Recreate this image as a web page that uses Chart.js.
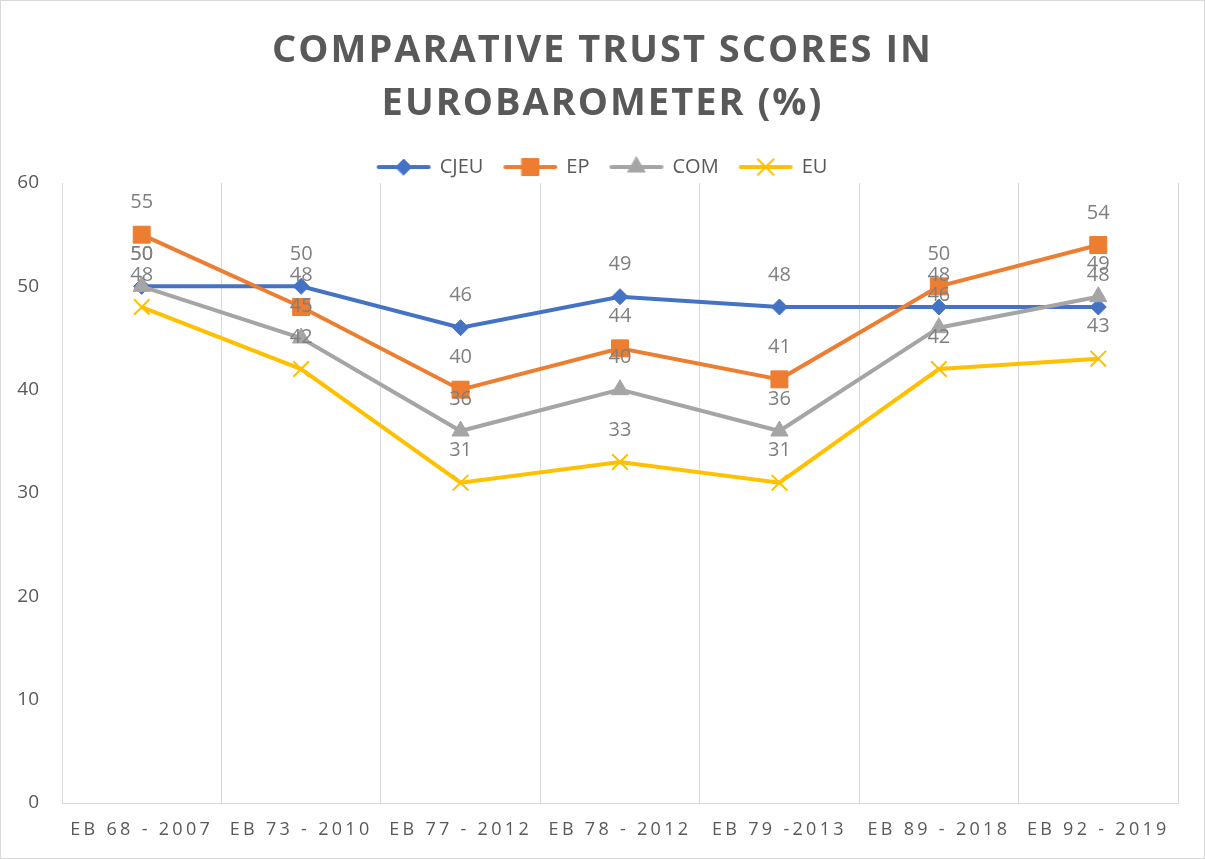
<!DOCTYPE html>
<html>
<head>
<meta charset="utf-8">
<script src="https://cdn.jsdelivr.net/npm/chart.js@4.4.1/dist/chart.umd.min.js"></script>
<style>
  html, body { margin: 0; padding: 0; background: #fff; }
</style>
</head>
<body>
<canvas id="trustChart" width="1205" height="859"></canvas>
<script>
// values
var waves = ["EB 68 - 2007", "EB 73 - 2010", "EB 77 - 2012", "EB 78 - 2012", "EB 79 -2013", "EB 89 - 2018", "EB 92 - 2019"];
var cjeu = [50, 50, 46, 49, 48, 48, 48];
var ep = [55, 48, 40, 44, 41, 50, 54];
var com = [50, 45, 36, 40, 36, 46, 49];
var eu = [48, 42, 31, 33, 31, 42, 43];
var yTicks = [0, 10, 20, 30, 40, 50, 60];

var colors = ["#4472C4", "#ED7D31", "#A5A5A5", "#FFC000"];

Chart.defaults.font.family = "'Open Sans', sans-serif";

// little line + marker pictures for the legend
function legendIcon(color, style, radius, bw) {
  var c = document.createElement("canvas");
  c.width = 56;
  c.height = 24;
  var g = c.getContext("2d");
  g.strokeStyle = color;
  g.lineWidth = 4;
  g.lineCap = "round";
  g.beginPath();
  g.moveTo(3, 12);
  g.lineTo(53, 12);
  g.stroke();
  g.fillStyle = color;
  g.lineWidth = bw;
  Chart.helpers.drawPoint(g, { pointStyle: style, radius: radius, rotation: 0, borderWidth: bw }, 28, 12);
  return c;
}

var icons = [
  legendIcon(colors[0], "rectRot", 8, 1),
  legendIcon(colors[1], "rect", 12, 1),
  legendIcon(colors[2], "triangle", 10, 1),
  legendIcon(colors[3], "crossRot", 11, 2)
];

function spaced(obj, fn, sp) {
  if (!obj || obj["_sp_" + fn]) return;
  var orig = obj[fn];
  obj[fn] = function () {
    var c = this.ctx;
    c.save();
    c.letterSpacing = sp;
    orig.apply(this, arguments);
    c.restore();
  };
  obj["_sp_" + fn] = true;
}

var excelLook = {
  id: "excelLook",
  beforeLayout: function (chart) {
    var lg = chart.legend;
    if (lg && !lg._trimmed) {
      var fit = lg.fit;
      lg.fit = function () {
        fit.call(this);
        this.height -= 4;
      };
      lg._trimmed = true;
    }
  },
  beforeDraw: function (chart) {
    var ctx = chart.ctx;
    ctx.save();
    ctx.fillStyle = "#fff";
    ctx.fillRect(0, 0, chart.width, chart.height);
    ctx.strokeStyle = "#d9d9d9";
    ctx.lineWidth = 1;
    ctx.strokeRect(0.5, 0.5, chart.width - 1, chart.height - 1);
    ctx.restore();
    // y labels sit left of the (narrow) scale box, so don't clip them
    chart.scales.y._computeLabelArea = function () { return null; };
    spaced(chart.scales.x, "drawLabels", "3.3px");
    spaced(chart.titleBlock, "draw", "2px");
  },
  afterDatasetsDraw: function (chart) {
    var ctx = chart.ctx;
    ctx.save();
    ctx.font = "20px 'Open Sans', sans-serif";
    ctx.fillStyle = "#7f7f7f";
    ctx.textAlign = "center";
    ctx.textBaseline = "middle";
    chart.data.datasets.forEach(function (ds, i) {
      var meta = chart.getDatasetMeta(i);
      meta.data.forEach(function (pt, j) {
        ctx.fillText(String(ds.data[j]), pt.x, pt.y - 32);
      });
    });
    ctx.restore();
  }
};

var ctx = document.getElementById("trustChart");

var trustChart = new Chart(ctx, {
  type: "line",
  data: {
    labels: waves,
    datasets: [
      {
        label: "CJEU",
        data: cjeu,
        order: 4,
        borderColor: colors[0],
        backgroundColor: colors[0],
        borderWidth: 4,
        pointStyle: "rectRot",
        pointRadius: 8,
        pointBorderWidth: 1
      },
      {
        label: "EP",
        data: ep,
        order: 3,
        borderColor: colors[1],
        backgroundColor: colors[1],
        borderWidth: 4,
        pointStyle: "rect",
        pointRadius: 12,
        pointBorderWidth: 1
      },
      {
        label: "COM",
        data: com,
        order: 2,
        borderColor: colors[2],
        backgroundColor: colors[2],
        borderWidth: 4,
        pointStyle: "triangle",
        pointRadius: 10,
        pointBorderWidth: 1
      },
      {
        label: "EU",
        data: eu,
        order: 1,
        borderColor: colors[3],
        backgroundColor: colors[3],
        borderWidth: 4,
        pointStyle: "crossRot",
        pointRadius: 11,
        pointBorderWidth: 2
      }
    ]
  },
  options: {
    responsive: false,
    animation: false,
    layout: { padding: { top: 0, left: 27, right: 27, bottom: 8 } },
    plugins: {
      title: {
        display: true,
        text: ["COMPARATIVE TRUST SCORES IN", "EUROBAROMETER (%)"],
        color: "#595959",
        font: { size: 38, weight: "bold", lineHeight: 1.395 },
        padding: { top: 24.5, bottom: 5.5 }
      },
      legend: {
        position: "top",
        labels: {
          color: "#595959",
          font: { size: 20 },
          usePointStyle: true,
          pointStyleWidth: 52,
          padding: 21,
          sort: function (a, b) { return a.datasetIndex - b.datasetIndex; },
          generateLabels: function (chart) {
            var items = Chart.defaults.plugins.legend.labels.generateLabels(chart);
            items.forEach(function (it) { it.pointStyle = icons[it.datasetIndex]; });
            return items;
          }
        }
      },
      tooltip: { enabled: false }
    },
    scales: {
      x: {
        offset: true,
        grid: { offset: true, color: "#d9d9d9", lineWidth: 1, drawTicks: false },
        border: { color: "#d9d9d9", width: 1 },
        ticks: { color: "#595959", font: { size: 18 }, padding: 16, maxRotation: 0, autoSkip: false },
        afterFit: function (s) { s.height = 48; }
      },
      y: {
        min: 0,
        max: 60,
        grid: { display: false, drawTicks: false },
        border: { display: false },
        ticks: { color: "#595959", font: { size: 19 }, padding: 23 },
        afterBuildTicks: function (s) {
          s.ticks = yTicks.map(function (v) { return { value: v }; });
        },
        afterFit: function (s) { s.width = 35; }
      }
    }
  },
  plugins: [excelLook]
});
</script>
</body>
</html>
